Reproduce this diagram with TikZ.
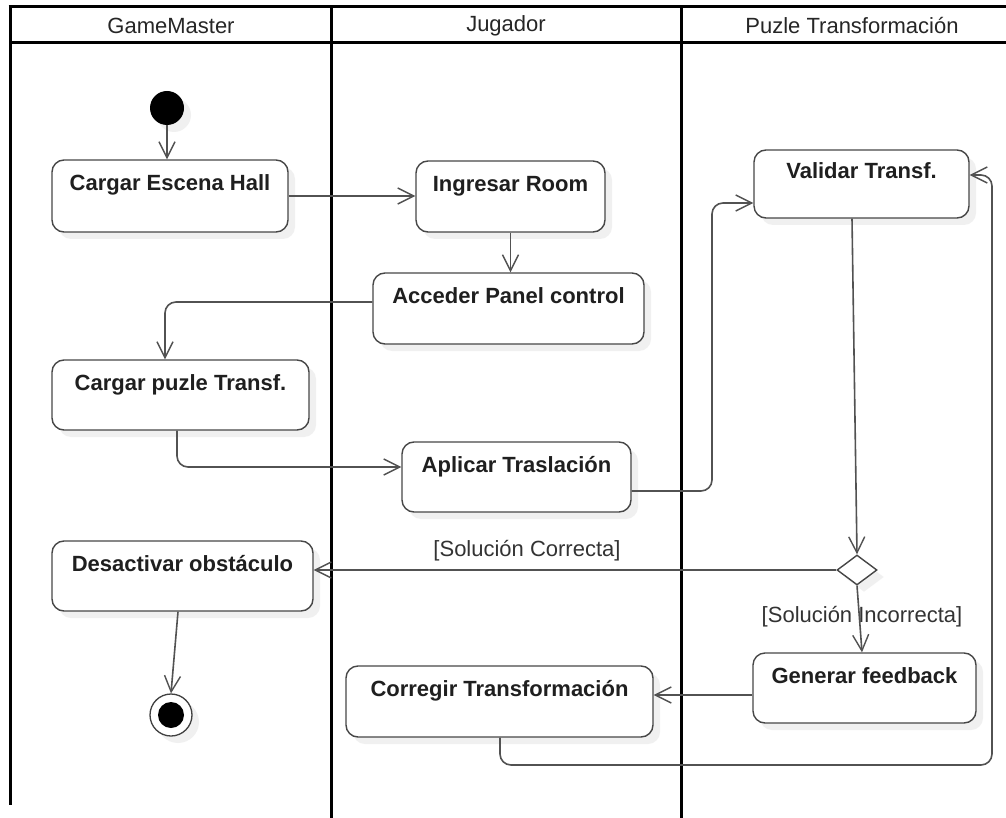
\documentclass[tikz,border=0pt]{standalone}
\usepackage{fontspec}
\setmainfont{Liberation Sans}
\usetikzlibrary{arrows.meta,shapes.geometric,shadows}

\begin{document}
\begin{tikzpicture}[x=1pt,y=-1pt,
  lane/.style={line width=3pt,black},
  softshadow/.style={drop shadow={shadow xshift=7pt,shadow yshift=-7pt,fill=black!11}},
  act/.style={draw=black!72,line width=1.4pt,rounded corners=12pt,fill=white,
     text height=16pt,text depth=26pt,
     font=\fontsize{22}{26}\selectfont\bfseries,text=black!88,softshadow},
  flow/.style={draw=black!68,line width=1.6pt,rounded corners=11pt,
     -{Straight Barb[length=16pt,width=16pt,line width=1.4pt]}},
  guard/.style={font=\fontsize{22}{26}\selectfont,text=black!80},
  head/.style={font=\fontsize{22}{26}\selectfont,text=black!85}]

\useasboundingbox[fill=white] (0,0) rectangle (1006,818);

% swimlane frame
\draw[lane] (8.5,7) -- (1006,7);
\draw[lane] (10,43) -- (1006,43);
\draw[lane] (10,5.5) -- (10,805);
\draw[lane] (331,5.5) -- (331,818);
\draw[lane] (681,5.5) -- (681,818);

\node[head] (hGM) at (171,26) {GameMaster};
\node[head] (hJ)  at (506,26) {Jugador};
\node[head] (hPT) at (852,26) {Puzle Transformación};

% activities
\node[circle,fill=black,minimum size=34pt,inner sep=0,softshadow] (start) at (167,108) {};
\node[act,minimum width=236pt,minimum height=72pt] (hall)   at (170,196)   {Cargar Escena Hall};
\node[act,minimum width=189pt,minimum height=71pt] (room)   at (510.5,196.5) {Ingresar Room};
\node[act,minimum width=271pt,minimum height=71pt] (panel)  at (508.5,308.5) {Acceder Panel control};
\node[act,minimum width=215pt,minimum height=68pt] (valid)  at (861.5,184)  {Validar Transf.};
\node[act,minimum width=257pt,minimum height=70pt] (puzle)  at (180.5,395)  {Cargar puzle Transf.};
\node[act,minimum width=229pt,minimum height=70pt] (aplic)  at (516.5,477)  {Aplicar Traslación};
\node[act,minimum width=261pt,minimum height=70pt] (desact) at (182.5,576)  {Desactivar obstáculo};
\node[act,minimum width=223pt,minimum height=70pt] (gen)    at (864.5,688)  {Generar feedback};
\node[act,minimum width=307pt,minimum height=71pt] (corr)   at (499.5,701.5) {Corregir Transformación};
\node[diamond,draw=black!72,line width=1.4pt,fill=white,minimum width=40pt,minimum height=30pt,
      inner sep=0,softshadow] (dec) at (857,570) {};
\node[circle,draw=black!75,line width=1.3pt,fill=white,minimum size=42pt,inner sep=0,softshadow]
      (final) at (171,715) {};
\node[circle,fill=black,minimum size=26pt,inner sep=0] (finaldot) at (final) {};

% control flow
\draw[flow] (start.south) -- (start.south |- hall.north);
\draw[flow] (hall.east) -- (room.west |- hall.east);
\draw[flow] (room.south) -- (room.south |- panel.north);
\draw[flow] (panel.west |- 0,302) -| (puzle.north -| 165,0);
\draw[flow] (puzle.south -| 177,0) |- (aplic.west |- 0,467);
\draw[flow] (aplic.east |- 0,491) -- (712,491) -- (712,203) -- (valid.west |- 0,203);
\draw[flow] (valid.south -| 852,0) -- (dec.north);
\draw[flow] (dec.west) -- (desact.east |- dec.west);
\node[guard] (gOK) at (527,551) {[Solución Correcta]};
\draw[flow] (dec.south) -- (gen.north -| 862,0);
\node[guard] (gKO) at (862,617) {[Solución Incorrecta]};
\draw[flow] (gen.west |- 0,695) -- (corr.east |- 0,695);
\draw[flow] (corr.south -| 500,0) -- (500,765) -- (992,765) -- (992,175) -- (valid.east |- 0,175);
\draw[flow] (desact.south -| 178,0) -- (final.north);

\end{tikzpicture}
\end{document}
